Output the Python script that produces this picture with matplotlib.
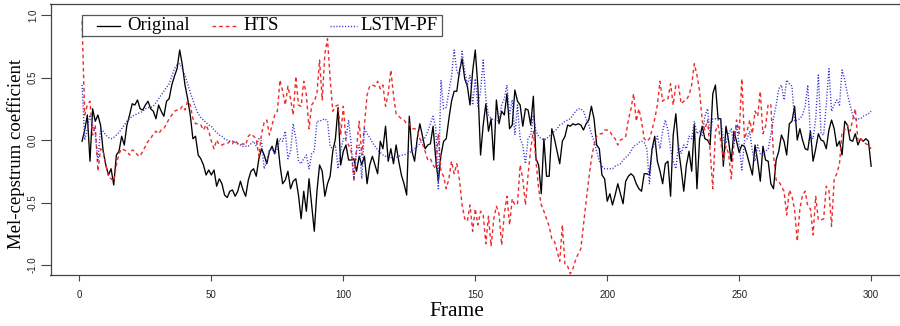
import numpy as np
import matplotlib.pyplot as plt
from matplotlib.patches import Rectangle
from matplotlib.lines import Line2D

# values, one per frame (1..300)
frames = np.arange(1, 301)

original = [
    -0.01, 0.08, 0.20, -0.17, 0.25, 0.15, 0.20, 0.12, -0.09, -0.20,
    -0.28, -0.23, -0.36, -0.12, -0.09, 0.03, -0.04, 0.12, 0.20, 0.29,
    0.28, 0.32, 0.25, 0.24, 0.28, 0.31, 0.25, 0.23, 0.17, 0.28,
    0.23, 0.19, 0.31, 0.33, 0.44, 0.51, 0.57, 0.72, 0.60, 0.44,
    0.33, 0.20, 0.01, 0.03, -0.12, -0.15, -0.20, -0.28, -0.24, -0.28,
    -0.24, -0.37, -0.31, -0.35, -0.44, -0.46, -0.41, -0.40, -0.45, -0.41,
    -0.33, -0.40, -0.45, -0.32, -0.25, -0.23, -0.29, -0.15, -0.07, -0.12,
    -0.19, -0.09, -0.05, -0.11, 0.01, -0.20, -0.35, -0.32, -0.25, -0.39,
    -0.33, -0.31, -0.44, -0.63, -0.41, -0.57, -0.31, -0.52, -0.73, -0.41,
    -0.20, -0.25, -0.45, -0.35, -0.29, -0.09, 0.01, 0.26, -0.20, -0.09,
    -0.04, -0.16, -0.16, -0.15, -0.25, -0.13, -0.20, -0.13, -0.35, -0.20,
    -0.13, -0.20, -0.27, -0.01, -0.07, 0.11, -0.17, -0.07, -0.19, -0.04,
    -0.17, -0.28, -0.35, -0.44, 0.19, -0.09, -0.17, 0.01, 0.13, 0.03,
    -0.07, -0.04, -0.03, 0.11, -0.15, -0.33, -0.12, -0.01, 0.01, 0.17,
    0.31, 0.39, 0.39, 0.55, 0.65, 0.49, 0.43, 0.28, 0.55, 0.72,
    0.42, -0.12, 0.12, 0.29, 0.07, 0.17, -0.16, 0.32, 0.13, 0.23,
    0.20, 0.37, 0.09, 0.12, 0.40, 0.31, 0.28, 0.11, 0.25, 0.24,
    0.12, 0.35, -0.15, -0.20, -0.43, 0.01, -0.29, -0.29, 0.09, 0.01,
    -0.09, -0.19, -0.01, 0.03, 0.12, 0.11, 0.13, 0.12, 0.13, 0.12,
    0.08, 0.13, 0.16, 0.27, 0.17, -0.04, -0.07, -0.28, -0.31, -0.49,
    -0.43, -0.52, -0.44, -0.35, -0.43, -0.51, -0.33, -0.29, -0.27, -0.29,
    -0.35, -0.39, -0.41, -0.27, -0.27, -0.28, -0.07, 0.03, -0.17, -0.25,
    -0.35, -0.19, -0.17, -0.45, 0.04, 0.21, -0.07, -0.23, -0.41, -0.20,
    -0.09, -0.25, 0.12, -0.39, 0.01, 0.11, 0.01, 0.00, -0.04, 0.37,
    0.44, 0.17, 0.17, -0.21, 0.11, -0.01, -0.17, 0.07, -0.01, -0.10,
    -0.04, -0.05, -0.12, -0.20, -0.28, -0.04, -0.17, -0.33, -0.05, -0.16,
    -0.17, -0.35, -0.39, -0.16, -0.09, 0.04, -0.01, -0.12, 0.13, 0.15,
    0.27, 0.00, 0.09, 0.00, -0.07, -0.08, 0.07, -0.17, -0.07, 0.05,
    0.00, -0.01, -0.07, 0.08, 0.16, 0.09, -0.05, -0.01, -0.12, 0.15,
    0.12, 0.00, -0.01, 0.05, -0.04, 0.01, -0.01, 0.01, -0.01, -0.21,
]

hts = [
    0.95, 0.20, 0.28, 0.31, 0.04, 0.12, -0.25, -0.07, -0.09, -0.20,
    -0.29, -0.31, -0.33, -0.20, -0.11, -0.07, -0.08, -0.09, -0.12, -0.08,
    -0.09, -0.12, -0.13, -0.09, -0.05, -0.01, 0.01, 0.05, 0.07, 0.05,
    0.08, 0.09, 0.13, 0.17, 0.20, 0.23, 0.24, 0.24, 0.27, 0.24,
    0.31, 0.28, 0.17, 0.13, 0.13, 0.12, 0.08, 0.12, 0.07, -0.01,
    -0.07, 0.00, -0.04, -0.04, -0.03, -0.03, -0.01, -0.03, 0.00, -0.03,
    -0.04, -0.03, -0.04, 0.03, 0.05, 0.03, 0.01, -0.13, 0.05, 0.14,
    0.16, 0.04, 0.12, 0.20, 0.23, 0.48, 0.39, 0.28, 0.43, 0.33,
    0.20, 0.51, 0.28, 0.27, 0.47, 0.36, 0.09, 0.28, 0.31, 0.37,
    0.64, 0.32, 0.69, 0.81, 0.49, 0.23, 0.27, 0.28, 0.04, 0.27,
    -0.01, -0.04, -0.09, -0.31, -0.07, 0.15, -0.12, 0.12, 0.36, 0.43,
    0.44, 0.43, 0.47, 0.41, 0.44, 0.27, 0.37, 0.56, 0.36, 0.21,
    0.19, 0.17, 0.16, 0.13, 0.13, 0.09, 0.09, 0.08, 0.01, -0.03,
    -0.09, -0.16, -0.15, -0.20, -0.23, 0.05, -0.25, -0.29, -0.39, -0.31,
    -0.17, -0.27, -0.19, -0.32, -0.52, -0.63, -0.65, -0.52, -0.73, -0.55,
    -0.68, -0.57, -0.60, -0.83, -0.61, -0.85, -0.63, -0.53, -0.59, -0.84,
    -0.59, -0.45, -0.68, -0.47, -0.52, -0.51, -0.20, -0.31, -0.52, -0.28,
    -0.07, 0.07, -0.17, -0.39, -0.52, -0.57, -0.63, -0.69, -0.79, -0.81,
    -0.89, -0.97, -0.68, -1.00, -1.01, -1.07, -1.03, -0.96, -0.91, -0.87,
    -0.68, -0.49, -0.31, -0.15, -0.04, 0.03, 0.05, 0.05, 0.08, 0.08,
    0.07, 0.03, 0.01, -0.04, 0.00, 0.01, 0.03, 0.16, 0.25, 0.37,
    0.15, 0.25, 0.15, 0.01, -0.01, 0.01, 0.08, 0.17, 0.28, 0.47,
    0.31, 0.33, 0.33, 0.45, 0.28, 0.44, 0.44, 0.29, 0.31, 0.32,
    0.36, 0.44, 0.61, 0.52, 0.39, 0.15, 0.08, 0.16, -0.09, -0.39,
    0.07, 0.12, -0.01, -0.16, -0.05, -0.11, -0.31, -0.03, 0.16, 0.05,
    0.49, 0.01, 0.07, 0.16, 0.05, 0.23, 0.19, 0.39, 0.05, 0.11,
    0.29, 0.28, -0.12, -0.32, -0.33, -0.37, -0.41, -0.60, -0.40, -0.45,
    -0.56, -0.81, -0.55, -0.44, -0.41, -0.53, -0.55, -0.76, -0.45, -0.64,
    -0.64, -0.63, -0.37, -0.40, -0.69, -0.31, -0.27, -0.19, 0.07, 0.08,
    0.12, 0.07, 0.16, 0.25, -0.01, 0.01, -0.01, -0.03, -0.04, -0.07,
]

lstm_pf = [
    0.44, 0.00, 0.09, 0.20, 0.12, 0.05, -0.17, 0.09, 0.07, 0.04,
    0.02, 0.01, 0.02, 0.04, 0.06, 0.09, 0.12, 0.15, 0.17, 0.19,
    0.20, 0.21, 0.22, 0.23, 0.25, 0.26, 0.26, 0.27, 0.30, 0.33,
    0.36, 0.39, 0.42, 0.45, 0.51, 0.57, 0.60, 0.61, 0.57, 0.52,
    0.45, 0.38, 0.32, 0.26, 0.21, 0.18, 0.16, 0.14, 0.12, 0.11,
    0.08, 0.06, 0.04, 0.03, 0.01, 0.00, -0.01, -0.01, -0.02, -0.03,
    -0.04, -0.05, -0.05, -0.05, -0.03, -0.01, -0.05, 0.01, -0.01, -0.23,
    -0.17, -0.08, -0.07, -0.11, -0.07, 0.01, -0.01, 0.07, -0.15, -0.09,
    0.13, 0.01, -0.17, -0.19, -0.15, -0.12, -0.23, -0.11, -0.09, 0.15,
    0.15, 0.16, 0.17, 0.15, -0.05, -0.07, -0.04, -0.23, -0.09, 0.01,
    0.01, 0.16, -0.04, -0.32, -0.09, -0.04, -0.31, 0.09, 0.05, 0.02,
    -0.02, -0.05, -0.08, -0.10, -0.12, -0.13, -0.13, -0.14, -0.14, -0.14,
    -0.13, -0.12, -0.12, -0.11, -0.10, -0.09, -0.07, -0.05, -0.03, 0.00,
    0.02, 0.07, 0.13, 0.19, 0.10, -0.39, 0.48, 0.25, 0.26, 0.39,
    0.51, 0.72, 0.55, 0.51, 0.71, 0.55, 0.44, 0.52, 0.28, 0.49,
    0.27, 0.39, 0.64, 0.33, 0.20, 0.17, 0.16, 0.16, 0.15, 0.28,
    0.33, 0.44, 0.20, 0.32, 0.04, 0.28, 0.01, -0.04, -0.19, 0.01,
    0.04, 0.20, 0.07, 0.03, 0.01, 0.00, 0.01, 0.03, 0.05, 0.07,
    0.09, 0.12, 0.13, 0.15, 0.16, 0.17, 0.20, 0.23, 0.25, 0.25,
    0.23, 0.17, 0.12, 0.05, -0.01, -0.09, -0.17, -0.21, -0.23, -0.23,
    -0.23, -0.23, -0.21, -0.20, -0.19, -0.16, -0.14, -0.12, -0.09, -0.05,
    -0.04, -0.02, -0.01, -0.02, -0.07, -0.35, -0.07, -0.04, 0.03, -0.07,
    0.07, 0.16, 0.08, -0.07, -0.17, -0.23, -0.04, -0.11, -0.04, -0.07,
    0.03, 0.01, 0.15, 0.05, 0.07, 0.03, 0.19, 0.25, 0.04, 0.17,
    0.17, 0.16, 0.16, 0.01, -0.03, 0.05, 0.09, -0.04, 0.12, -0.04,
    -0.24, -0.01, 0.01, 0.07, -0.09, -0.17, -0.04, -0.11, -0.12, -0.09,
    -0.07, 0.04, 0.17, 0.28, 0.41, 0.44, 0.32, 0.48, 0.45, 0.43,
    0.15, 0.16, 0.17, 0.20, 0.27, 0.44, 0.03, 0.01, 0.17, 0.52,
    0.05, 0.04, 0.28, 0.57, 0.23, 0.28, 0.32, 0.28, 0.56, 0.48,
    0.37, 0.28, 0.20, 0.16, 0.17, 0.17, 0.19, 0.20, 0.21, 0.23,
]

series_names = ['Original', 'HTS', 'LSTM-PF']
x_ticks = [0, 50, 100, 150, 200, 250, 300]
y_ticks = [-1.0, -0.5, 0.0, 0.5, 1.0]
y_tick_labels = ['-1.0', '-0.5', '0.0', '0.5', '1.0']

W, H = 900, 326
SERIF = 'Liberation Serif'
SANS = 'Liberation Sans'

black_kw = dict(color='black', lw=0.95, linestyle='-')
red_kw = dict(color='#ee2a2a', lw=1.0, linestyle=(0, (2.6, 2.2)))
blue_kw = dict(color='#3232d2', lw=1.0, linestyle=(0, (0.8, 1.3)))

fig = plt.figure(figsize=(W / 100, H / 100), dpi=100)
# axes box in pixels: left 50.5, top 4, bottom 275; right edge runs just past the picture
ax = fig.add_axes([50.5 / W, 1 - 275 / H, (902.7 - 50.5) / W, (275 - 4) / H])

ax.plot(frames, original, **black_kw)
ax.plot(frames, hts, **red_kw)
ax.plot(frames, lstm_pf, **blue_kw)

ax.set_xlim(-10.96, 311.96)
ax.set_ylim(-1.08, 1.088)

ax.set_xticks(x_ticks)
ax.set_xticklabels([str(t) for t in x_ticks], family=SANS, fontsize=7, color='#222')
ax.set_yticks(y_ticks)
ax.set_yticklabels(y_tick_labels, family=SANS, fontsize=7, color='#222',
                   rotation=90, va='center')
ax.tick_params(axis='x', direction='out', length=4.5, width=0.8, color='#444', pad=6)
ax.tick_params(axis='y', direction='out', length=7, width=0.8, color='#444', pad=2)
for s in ax.spines.values():
    s.set_color('#444')
    s.set_linewidth(0.9)

# axis titles, placed in pixels like the reference
fig.text(457 / W, 1 - 312 / H, 'Frame', family=SERIF, fontsize=15.5,
         ha='center', va='center')
fig.text(16 / W, 1 - 154 / H, 'Mel-cepstrum coefficient', family=SERIF,
         fontsize=13.5, rotation=90, ha='center', va='center')

# R-style legend: white box, three equal-width columns
def fx(x):
    return x / W

def fy(y):
    return 1 - y / H

ax.add_patch(Rectangle((fx(82), fy(36)), fx(442) - fx(82), fy(14.7) - fy(36),
                       transform=fig.transFigure, facecolor='white',
                       edgecolor='#555', lw=0.9, zorder=10, clip_on=False))
leg_y = 25.5
entries = [(97, 120, 127, black_kw), (212, 238, 243, red_kw), (330, 357, 360, blue_kw)]
for name, (x0, x1, xt, kw) in zip(series_names, entries):
    ax.add_line(Line2D([fx(x0), fx(x1)], [fy(leg_y), fy(leg_y)],
                       transform=fig.transFigure, zorder=11, clip_on=False, **kw))
    ax.text(fx(xt), fy(30), name, transform=fig.transFigure, family=SERIF,
            fontsize=13.5, ha='left', va='baseline', zorder=12)

fig.savefig('out.png', dpi=100, facecolor='white')
